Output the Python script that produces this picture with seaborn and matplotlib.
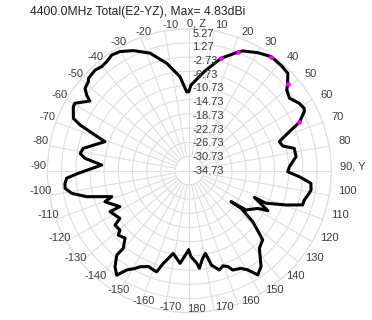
import numpy as np
import matplotlib
matplotlib.use("Agg")
import matplotlib.pyplot as plt
import seaborn as sns

# pattern (angle from +Z, clockwise towards +Y; gain in dBi)
angle_deg = [-179.5, -174.3, -169.0, -166.5, -164.3, -162.1, -160.1, -157.0, -152.8, -150.9,
             -147.8, -145.2, -142.3, -139.3, -139.6, -136.4, -132.2, -130.6, -126.2, -124.5,
             -117.3, -117.4, -110.2, -108.5, -104.2, -100.9, -98.1, -96.0, -93.5, -91.3,
             -86.3, -83.2, -81.0, -78.1, -71.0, -67.3, -65.7, -61.1, -59.5, -55.0,
             -53.6, -51.7, -48.6, -47.5, -43.1, -40.1, -37.2, -33.9, -30.2, -25.0,
             -18.5, -11.9, -5.7, -1.9, -0.4, 1.1, 8.9, 15.8, 22.2, 24.0,
             30.1, 35.7, 41.5, 45.3, 48.6, 50.4, 54.1, 58.5, 61.5, 62.8,
             66.3, 68.7, 72.1, 75.2, 78.0, 82.5, 87.7, 90.6, 93.1, 95.9,
             99.0, 100.7, 104.3, 106.8, 109.5, 113.0, 112.3, 117.0, 118.8, 124.7,
             126.6, 126.0, 128.8, 132.6, 133.4, 137.9, 143.2, 146.7, 149.5, 152.1,
             156.4, 158.0, 160.5, 163.2, 166.8, 169.0, 171.3, 174.1, 175.4, 178.9,
             180.5]
gain_db = [-12.4, -8.5, -11.0, -9.3, -7.6, -4.8, -5.0, -5.4, -4.3, -3.2,
           -1.7, 1.1, -0.5, -3.4, -6.0, -8.5, -7.7, -9.0, -8.8, -11.0,
           -9.6, -12.7, -9.4, -11.7, -4.9, -1.0, 0.6, 0.5, -0.1, -3.5,
           -10.0, -5.1, -3.6, -4.2, -9.6, -1.4, 1.1, 2.6, 2.7, -0.5,
           1.2, 2.7, 3.2, 3.8, 4.1, 3.6, 3.8, 4.5, 4.1, 2.6,
           0.2, -3.8, -8.1, -12.5, -12.5, -10.6, -6.3, -1.8, 1.3, 2.2,
           3.7, 4.83, 4.6, 4.3, 2.2, 0.9, 0.1, 1.6, 2.1, 1.7,
           -0.9, -4.5, -8.1, -7.5, -4.5, -4.4, -6.5, -7.0, -3.7, -0.3,
           0.0, -0.4, -1.3, -1.4, -5.8, -11.3, -14.9, -9.9, -12.7, -15.3,
           -20.1, -16.7, -11.8, -7.3, -6.3, -5.3, -1.0, 0.4, -2.3, -3.6,
           -4.2, -5.6, -6.3, -5.5, -7.4, -11.0, -9.8, -7.1, -8.6, -10.5,
           -12.4]

marker_deg = [15.8, 22.2, 35.7, 48.6, 66.3]
marker_db = [-1.8, 1.3, 4.83, 2.2, -0.9]

ring_db = [5.27, 1.27, -2.73, -6.73, -10.73, -14.73, -18.73, -22.73, -26.73, -30.73, -34.73]
spoke_deg = list(range(0, 360, 10))
spoke_labels = []
for a in spoke_deg:
    if a == 0:
        spoke_labels.append("0, Z")
    elif a == 90:
        spoke_labels.append("90, Y")
    elif a <= 180:
        spoke_labels.append(str(a))
    else:
        spoke_labels.append(str(a - 360))

title = "4400.0MHz Total(E2-YZ), Max= 4.83dBi"

grid_c = "#dedede"
text_c = "#3a3a44"

sns.set_theme(style="white")
plt.rcParams['font.family'] = ['Liberation Sans', 'DejaVu Sans']

fig = plt.figure(figsize=(3.72, 3.2), dpi=100)
ax = fig.add_axes([0.1272, 0.0228, 0.7634, 0.8875], projection='polar')
ax.set_theta_zero_location('N')
ax.set_theta_direction(-1)
r_min, r_max = ring_db[-1], ring_db[0]

ax.grid(False)
ax.set_xticks([])
ax.set_yticks([])
ax.spines['polar'].set_color(grid_c)
ax.spines['polar'].set_linewidth(0.8)

# rings
full = np.linspace(0, 2 * np.pi, 361)
for r in ring_db[:-1]:
    ax.plot(full, [r] * len(full), color=grid_c, lw=0.8, zorder=0)
# spokes: only the axes reach the centre
for a in spoke_deg:
    start = r_min if a % 90 == 0 else ring_db[-2]
    ax.plot([np.deg2rad(a)] * 2, [start, r_max], color=grid_c, lw=0.8, zorder=0)

sns.lineplot(x=np.deg2rad(angle_deg), y=gain_db, ax=ax, sort=False, estimator=None,
             color="black", linewidth=2.2, zorder=3)
sns.scatterplot(x=np.deg2rad(marker_deg), y=marker_db, ax=ax, color="#ff00ff",
                edgecolor="#ff00ff", s=10, zorder=4)

ax.set_ylim(r_min, r_max)
ax.set_xlabel("")
ax.set_ylabel("")

# angle labels around the rim
for a, lab in zip(spoke_deg, spoke_labels):
    t = np.deg2rad(a)
    s, c = np.sin(t), np.cos(t)
    if a in (0, 180):
        dx, ha = -2, 'left'
    elif a < 180:
        dx, ha = 9 * s, 'left'
    else:
        dx, ha = 9 * s + 9 * (1 - abs(s)), 'center'
    dy = c + 4.5
    ax.annotate(lab, xy=(t, r_max), xytext=(dx, dy), textcoords='offset pixels',
                ha=ha, va='center', fontsize=8, color=text_c, annotation_clip=False)

# radial labels along the Z axis (slightly compressed towards the centre, as in the source)
for r in ring_db:
    ax.annotate(f"{r:.2f}", xy=(0, r), xytext=(3, -0.12 * (r - r_min)), textcoords='offset pixels',
                ha='left', va='center', fontsize=8, color=text_c, zorder=5)

fig.text(30 / 372, 1 - 12.5 / 320, title, ha='left', va='center', fontsize=8.7, color="#222222")

fig.savefig("out.png", dpi=100)
